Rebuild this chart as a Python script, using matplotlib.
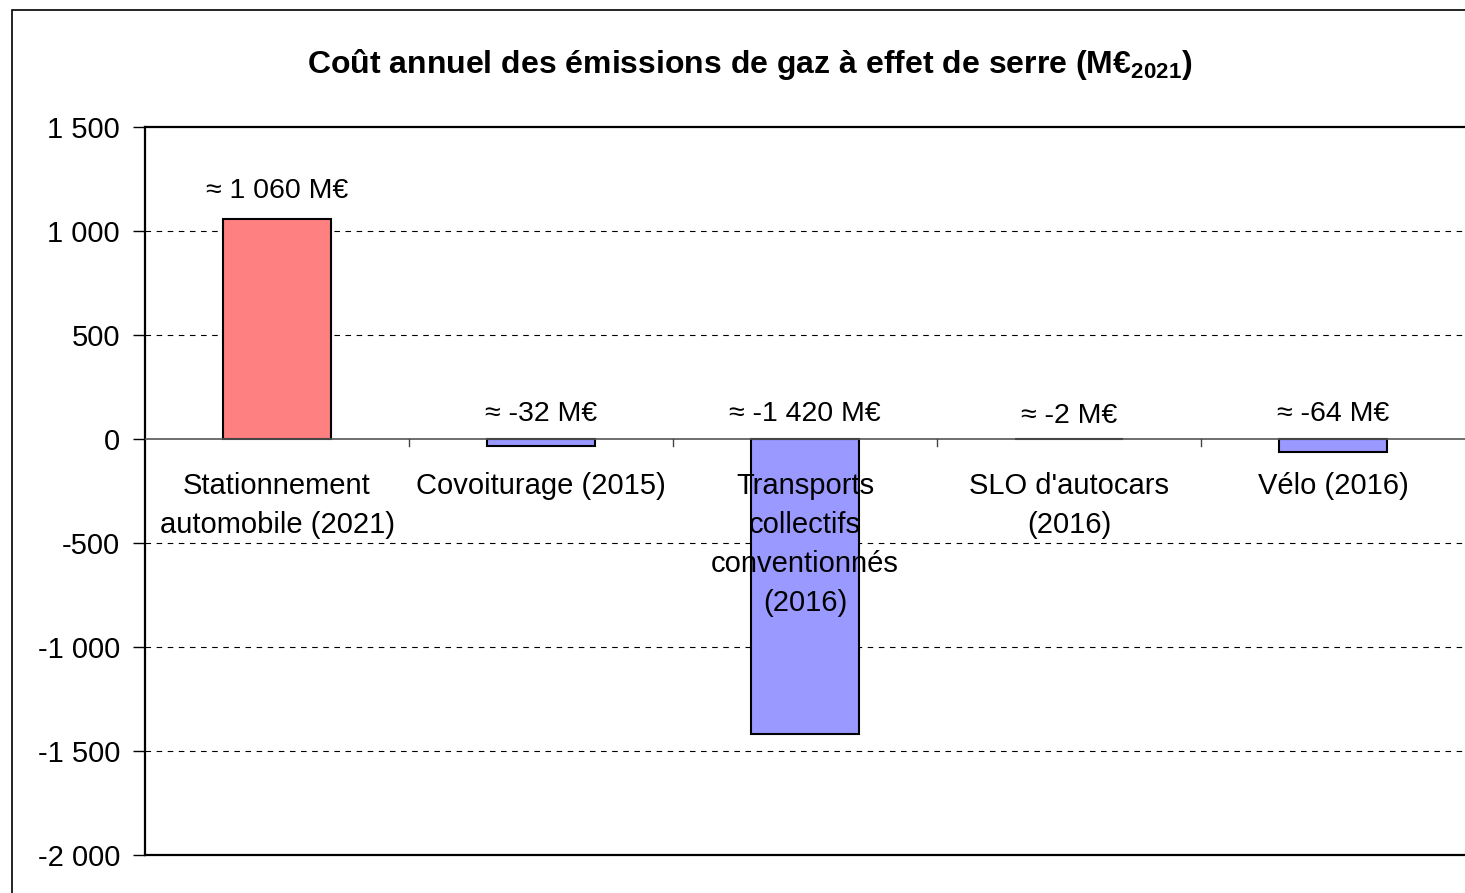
import matplotlib.pyplot as plt
from matplotlib.patches import Rectangle

categories = ["Stationnement\nautomobile (2021)", "Covoiturage (2015)",
              "Transports\ncollectifs\nconventionnés\n(2016)",
              "SLO d'autocars\n(2016)", "Vélo (2016)"]
values = [1060, -32, -1420, -2, -64]
value_labels = ["≈ 1 060 M€", "≈ -32 M€", "≈ -1 420 M€", "≈ -2 M€", "≈ -64 M€"]
colors = ["#FF8080", "#9999FF", "#9999FF", "#9999FF", "#9999FF"]
yticks = [1500, 1000, 500, 0, -500, -1000, -1500, -2000]
ytick_labels = ["1 500", "1 000", "500", "0", "-500", "-1 000", "-1 500", "-2 000"]

plt.rcParams['font.family'] = ['Liberation Sans', 'DejaVu Sans']

W, H = 1465, 893
fig = plt.figure(figsize=(W / 100, H / 100), dpi=100)
ax = fig.add_axes([145 / W, (H - 855) / H, (1465 - 145) / W, (855 - 127) / H])

# outer chart frame
fig.patches.append(Rectangle((12 / W, -0.1), 1.2, (H - 10) / H + 0.1, transform=fig.transFigure,
                             fill=False, edgecolor='black', linewidth=1.2))

x = list(range(len(values)))
ax.bar(x, values, width=0.41, color=colors, edgecolor='black', linewidth=1.5, zorder=3)

ax.set_xlim(-0.5, len(values) - 0.5)
ax.set_ylim(-2000, 1500)
ax.set_yticks(yticks)
ax.set_yticklabels(ytick_labels, fontsize=21)
ax.tick_params(axis='y', length=9, width=1, pad=9)
ax.set_xticks([])

for y in [1000, 500, -500, -1000, -1500]:
    ax.axhline(y, color='black', linestyle=(0, (5, 5)), linewidth=0.8, zorder=1)
ax.axhline(0, color='#555555', linewidth=1.2, zorder=4)
for b in [0.5, 1.5, 2.5, 3.5]:
    ax.plot([b, b], [0, -35], color='#444444', linewidth=1, zorder=4)

for spine in ['left', 'top', 'bottom']:
    ax.spines[spine].set_linewidth(1.6)
ax.spines['right'].set_visible(False)

for i, (v, lab) in enumerate(zip(values, value_labels)):
    dy = 20 if v > 0 else 18
    if v == -2:
        dy = 16.5
    ax.annotate(lab, (i, max(v, 0)), xytext=(0, dy), textcoords='offset points',
                ha='center', va='center', fontsize=20.5, zorder=5)

for i, cat in enumerate(categories):
    ax.annotate(cat, (i, 0), xytext=(0, -24), textcoords='offset points',
                ha='center', va='top', fontsize=21, linespacing=1.5, zorder=5)

fig.text(750 / W, 1 - 65 / H, r"Coût annuel des émissions de gaz à effet de serre (M€$_{\mathregular{2021}}$)",
         ha='center', va='center', fontsize=23, fontweight='bold')

fig.savefig("out.png", dpi=100)
